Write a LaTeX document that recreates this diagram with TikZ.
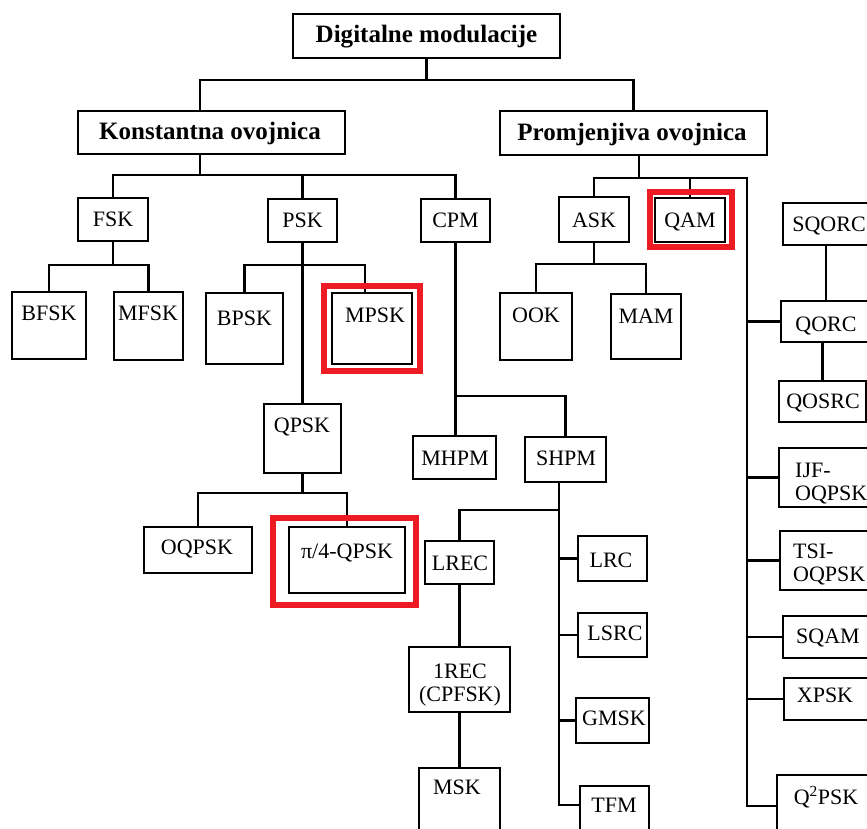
\documentclass[tikz,border=0pt]{standalone}
\usepackage{fontspec}
\setmainfont{Liberation Serif}
\definecolor{hlred}{HTML}{ED1C24}
% box from corner (x1,y1) to corner (x2,y2), y grows downwards
\newcommand\tbox[5]{%
  \node[bx, minimum width={(#4)-(#2)}, minimum height={(#5)-(#3)}]
    (#1) at ({((#2)+(#4))/2},{((#3)+(#5))/2}) {};}
\begin{document}
\begin{tikzpicture}[x=1pt,y=-1pt,
  bx/.style={draw, rectangle, line width=2.6pt, inner sep=0pt},
  hl/.style={draw=hlred, rectangle, line width=5.5pt, inner sep=0pt},
  lbl/.style={inner sep=0pt, font=\fontsize{22}{24}\selectfont,
              text height=14.6pt, text depth=0pt},
  lbltwo/.style={inner sep=0pt, font=\fontsize{22}{23.5}\selectfont},
  head/.style={inner sep=0pt, font=\fontsize{25}{28}\selectfont\bfseries,
               text height=16.5pt, text depth=0pt},
  wire/.style={line width=2.6pt}]
\useasboundingbox (0,0) rectangle (867,829);
\clip (0,0) rectangle (867,829);

% ---------- boxes ----------
\tbox{root}{293}{14}{560}{58}
\tbox{konst}{78}{111}{345}{154}
\tbox{prom}{500}{111}{767}{155}

\tbox{fsk}{78}{198}{148}{241}
\tbox{psk}{268}{199}{337}{242}
\tbox{cpm}{421}{199}{490}{242}
\tbox{ask}{559}{197}{629}{242}
\tbox{qam}{655}{198}{725}{242}
\tbox{sqorc}{783}{203}{869}{245}

\tbox{bfsk}{12}{292}{86}{359}
\tbox{mfsk}{114}{292}{183}{360}
\tbox{bpsk}{206}{293}{283}{364}
\tbox{mpsk}{332}{293}{412}{364}
\tbox{ook}{500}{293}{572}{360}
\tbox{mam}{611}{294}{681}{359}
\tbox{qorc}{781}{301}{871}{342}
\tbox{qosrc}{779}{381}{866}{422}

\tbox{qpsk}{264}{404}{341}{473}
\tbox{mhpm}{413}{436}{496}{479}
\tbox{shpm}{525}{437}{606}{482}
\tbox{ijf}{779}{448}{880}{507}

\tbox{oqpsk}{144}{527}{252}{573}
\tbox{pifour}{289}{527}{405}{593}
\tbox{lrec}{425}{541}{494}{584}
\tbox{lrc}{578}{536}{647}{581}
\tbox{tsi}{780}{531}{880}{590}
\tbox{lsrc}{578}{613}{647}{657}
\tbox{sqam}{783}{616}{880}{658}
\tbox{recone}{409}{647}{510}{712}
\tbox{gmsk}{576}{698}{649}{743}
\tbox{xpsk}{784}{678}{880}{720}
\tbox{msk}{419}{768}{500}{850}
\tbox{tfm}{580}{786}{649}{850}
\tbox{qqpsk}{777}{775}{880}{837}

% ---------- labels ----------
\node[head] (root-l) at (426.5,34) {Digitalne modulacije};
\node[head] (konst-l) at (210,131) {Konstantna ovojnica};
\node[head] (prom-l) at (632,132.5) {Promjenjiva ovojnica};

\node[lbl] (fsk-l) at (113,219) {FSK};
\node[lbl] (psk-l) at (302.5,220) {PSK};
\node[lbl] (cpm-l) at (455.5,220) {CPM};
\node[lbl] (ask-l) at (594,220) {ASK};
\node[lbl] (qam-l) at (690,220) {QAM};
\node[lbl] (sqorc-l) at (829,224) {SQORC};

\node[lbl] (bfsk-l) at (49,313) {BFSK};
\node[lbl] (mfsk-l) at (148,313) {MFSK};
\node[lbl] (bpsk-l) at (244.5,318) {BPSK};
\node[lbl] (mpsk-l) at (375,315) {MPSK};
\node[lbl] (ook-l) at (536,315) {OOK};
\node[lbl] (mam-l) at (646,316) {MAM};
\node[lbl] (qorc-l) at (826,324) {QORC};
\node[lbl] (qosrc-l) at (823,401) {QOSRC};

\node[lbl] (qpsk-l) at (302,425) {QPSK};
\node[lbl] (mhpm-l) at (455,458) {MHPM};
\node[lbl] (shpm-l) at (566,458) {SHPM};
\node[lbltwo, align=left, anchor=north west] (ijf-l) at (795,462.5) {IJF-\\OQPSK};

\node[lbl] (oqpsk-l) at (197,547) {OQPSK};
\node[lbl] (pifour-l) at (347,551) {π/4-QPSK};
\node[lbl] (lrec-l) at (460,563) {LREC};
\node[lbl] (lrc-l) at (611,560) {LRC};
\node[lbltwo, align=left, anchor=north west] (tsi-l) at (793,543.5) {TSI-\\OQPSK};
\node[lbl] (lsrc-l) at (615,633) {LSRC};
\node[lbl] (sqam-l) at (828,636) {SQAM};
\node[lbltwo, align=center, anchor=north] (recone-l) at (460,663.5) {1REC\\(CPFSK)};
\node[lbl] (gmsk-l) at (614,718) {GMSK};
\node[lbl] (xpsk-l) at (825,695) {XPSK};
\node[lbl] (msk-l) at (457,787) {MSK};
\node[lbl] (tfm-l) at (614,805) {TFM};
\node[lbl] (qqpsk-l) at (826,797) {Q\textsuperscript{2}PSK};

% ---------- connector helpers ----------
\coordinate (rootbus) at (0,80);
\coordinate (kbus) at (0,175);
\coordinate (fbus) at (0,265);
\coordinate (abus) at (0,264);
\coordinate (pbus) at (0,178);
\coordinate (cbus) at (0,396);
\coordinate (qbus) at (0,493);
\coordinate (sbus) at (0,510);
\coordinate (konst-top) at ([xshift=-11.5pt]konst.north);
\coordinate (konst-bot) at ([xshift=-11.5pt]konst.south);
\coordinate (prom-bot) at ([xshift=5.5pt]prom.south);
\coordinate (mpsk-in) at ([xshift=-7pt]mpsk.north);
\coordinate (rail) at (747,178);
\coordinate (srail) at ([xshift=-6.5pt]shpm.south);
\coordinate (tfm-in) at ([yshift=13pt]tfm.west);

% ---------- connectors ----------
\draw[wire] (root.south) -- (root.south |- rootbus);
\draw[wire] (konst-top) |- (prom.north |- rootbus) -- (prom.north);

\draw[wire] (konst-bot) -- (konst-bot |- kbus);
\draw[wire] (fsk.north) |- (cpm.north |- kbus) -- (cpm.north);
\draw[wire] (psk.north) -- (psk.north |- kbus);

\draw[wire] (fsk.south) -- (fsk.south |- fbus);
\draw[wire] (bfsk.north) |- (mfsk.north |- fbus) -- (mfsk.north);

\draw[wire] (psk.south) -- (qpsk.north);
\draw[wire] (bpsk.north) |- (mpsk-in |- fbus) -- (mpsk-in);

\draw[wire] (qpsk.south) -- (qpsk.south |- qbus);
\draw[wire] (oqpsk.north) |- (pifour.north |- qbus) -- (pifour.north);

\draw[wire] (cpm.south) -- (cpm.south |- mhpm.north);
\draw[wire] (cpm.south |- cbus) -| (shpm.north);

\draw[wire] (srail) |- (tfm-in);
\draw[wire] (srail |- sbus) -| (lrec.north);
\draw[wire] (lrc.west) -- (lrc.west -| srail);
\draw[wire] (lsrc.west) -- (lsrc.west -| srail);
\draw[wire] (gmsk.west) -- (gmsk.west -| srail);

\draw[wire] (lrec.south) -- (recone.north);
\draw[wire] (recone.south) -- (msk.north);

\draw[wire] (prom-bot) -- (prom-bot |- pbus);
\draw[wire] (ask.north) |- (rail) |- (qqpsk.west);
\draw[wire] (qam.north) -- (qam.north |- pbus);
\draw[wire] (qorc.west) -- (qorc.west -| rail);
\draw[wire] (ijf.west) -- (ijf.west -| rail);
\draw[wire] (tsi.west) -- (tsi.west -| rail);
\draw[wire] (sqam.west) -- (sqam.west -| rail);
\draw[wire] (xpsk.west) -- (xpsk.west -| rail);
\draw[wire] (sqorc.south) -- (sqorc.south |- qorc.north);
\draw[wire] (qosrc.north) -- (qosrc.north |- qorc.south);

\draw[wire] (ask.south) -- (ask.south |- abus);
\draw[wire] (ook.north) |- (mam.north |- abus) -- (mam.north);

% ---------- highlights ----------
\node[hl, minimum width=96, minimum height=85] (mpsk-hl) at (372,328.5) {};
\node[hl, minimum width=82, minimum height=55] (qam-hl) at (691,219.5) {};
\node[hl, minimum width=143, minimum height=87] (pifour-hl) at (344.5,561.5) {};
\end{tikzpicture}
\end{document}
